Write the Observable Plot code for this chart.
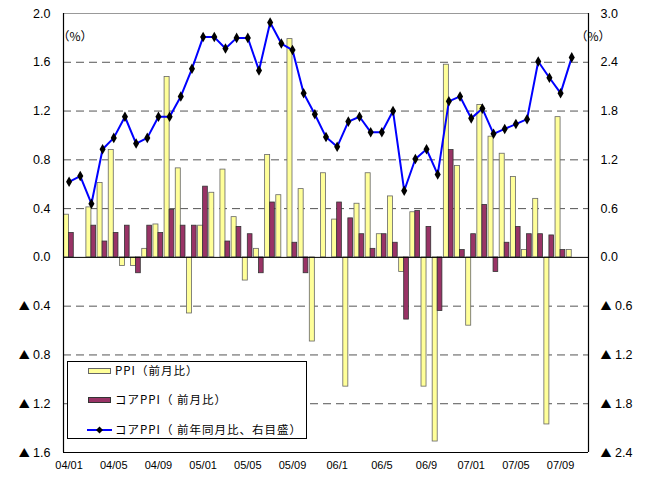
<!DOCTYPE html>
<html><head><meta charset="utf-8">
<script src="https://cdn.jsdelivr.net/npm/d3@7"></script>
<script src="https://cdn.jsdelivr.net/npm/@observablehq/plot@0.6"></script>
<style>
body{margin:0;background:#fff;}
#wrap{position:relative;width:650px;height:479px;background:#fff;}
#legend{position:absolute;left:67px;top:361px;width:240px;height:78px;border:1px solid #000;background:#fff;box-sizing:border-box;font-family:"Noto Sans CJK JP",sans-serif;font-size:11.5px;letter-spacing:1px;color:#000;}
.row{position:absolute;left:0;height:14px;line-height:14px;}
.sw{position:absolute;left:20px;top:4px;width:23px;height:6px;box-sizing:border-box;}
.lab{position:absolute;left:47px;top:-1px;white-space:nowrap;}
</style></head>
<body>
<div id="wrap"></div>
<script>
const months = ["04/01","04/02","04/03","04/04","04/05","04/06","04/07","04/08","04/09","04/10","04/11","04/12",
  "05/01","05/02","05/03","05/04","05/05","05/06","05/07","05/08","05/09","05/10","05/11","05/12",
  "06/01","06/02","06/03","06/04","06/05","06/06","06/07","06/08","06/09","06/10","06/11","06/12",
  "07/01","07/02","07/03","07/04","07/05","07/06","07/07","07/08","07/09","07/10"];
// PPI (month on month, %)
const ppi = [0.35,0,0.41,0.61,0.88,-0.07,-0.07,0.07,0.27,1.48,0.73,-0.46,
  0.26,0.53,0.72,0.33,-0.19,0.07,0.84,0.51,1.79,0.56,-0.69,0.69,
  0.31,-1.06,0.44,0.69,0.19,0.50,-0.12,0.37,-1.06,-1.51,1.58,0.75,
  -0.56,1.25,0.99,0.85,0.66,0.06,0.48,-1.37,1.15,0.06];
// Core PPI (month on month, %)
const corePPI = [0.20,0,0.26,0.13,0.20,0.26,-0.13,0.26,0.20,0.39,0.26,0.26,
  0.58,0,0.13,0.25,0.19,-0.13,0.45,0,0.12,-0.13,0,0,
  0.45,0.32,0.19,0.07,0.19,0.12,-0.51,0.38,0.25,-0.44,0.88,0.06,
  0.19,0.43,-0.12,0.12,0.25,0.19,0.19,0.18,0.06,null];
// Core PPI (year on year, %, right axis)
const coreYoY = [0.93,1.00,0.66,1.33,1.47,1.73,1.40,1.47,1.73,1.73,1.98,2.32,
  2.71,2.71,2.57,2.70,2.70,2.30,2.89,2.63,2.55,2.02,1.76,1.48,
  1.36,1.67,1.73,1.54,1.54,1.80,0.82,1.21,1.33,1.02,1.92,1.98,
  1.71,1.83,1.52,1.58,1.64,1.70,2.41,2.21,2.02,2.46];
const xTickMonths = ["04/01","04/05","04/09","05/01","05/05","05/09","06/01","06/05","06/09","07/01","07/05","07/09"];
const xTickLabels = ["04/01","04/05","04/09","05/01","05/05","05/09","06/1","06/5","06/9","07/01","07/05","07/09"];
const leftTicks = [2.0,1.6,1.2,0.8,0.4,0.0,-0.4,-0.8,-1.2,-1.6];
const gridVals = [1.6,1.2,0.8,0.4,-0.4,-0.8,-1.2];
const ratio = 1.5; // right axis / left axis

const data = months.map((m,i)=>({i, m, ppi: ppi[i], core: corePPI[i], yoy: coreYoY[i]}));
const nBands = months.length + 1;
const fmt = v => { const r = Math.round(v*10)/10; return r < 0 ? "▲ " + Math.abs(r).toFixed(1) : r.toFixed(1); };
const xTickPos = xTickMonths.map(m => months.indexOf(m) + 0.5);

const chart = Plot.plot({
  width:650, height:479,
  marginLeft:63, marginRight:62, marginTop:13, marginBottom:27,
  x:{domain:[0,nBands], axis:null},
  y:{domain:[-1.6,2.0], axis:null},
  style:{fontFamily:"'Liberation Sans', Arial, sans-serif", background:"#fff", color:"#000"},
  marks:[
    Plot.ruleY(gridVals, {stroke:"#555", strokeDasharray:"8,5", strokeWidth:1}),
    Plot.ruleY([2.0], {stroke:"#999", strokeWidth:1}),
    Plot.rect(data.filter(d=>d.ppi), {x1:d=>d.i+0.05, x2:d=>d.i+0.5, y1:0, y2:"ppi", fill:"#FFFF99", stroke:"#666", strokeWidth:0.8}),
    Plot.rect(data.filter(d=>d.core), {x1:d=>d.i+0.5, x2:d=>d.i+0.92, y1:0, y2:"core", fill:"#993366", stroke:"#333", strokeWidth:0.8}),
    Plot.ruleY([0], {stroke:"#000", strokeWidth:1}),
    Plot.ruleY([-1.6], {stroke:"#000", strokeWidth:1}),
    Plot.ruleX([0], {stroke:"#000", strokeWidth:1.2}),
    Plot.ruleX([nBands], {stroke:"#000", strokeWidth:1.2}),
    Plot.line(data, {x:d=>d.i+0.5, y:d=>d.yoy/ratio, stroke:"#0000FF", strokeWidth:2}),
    Plot.dot(data, {x:d=>d.i+0.5, y:d=>d.yoy/ratio, symbol:"diamond", fill:"#000", r:3.2}),
    Plot.axisY({anchor:"left", ticks:leftTicks, tickSize:0, tickPadding:13, tickFormat:fmt, fontSize:12.5}),
    Plot.axisY({anchor:"right", ticks:leftTicks, tickSize:0, tickPadding:12, tickFormat:v=>fmt(v*ratio), fontSize:12.5}),
    Plot.axisX({ticks:xTickPos, tickSize:0, tickPadding:9, fontSize:11, tickFormat:d=>xTickLabels[xTickPos.indexOf(d)]}),
    Plot.text(["（%）"], {frameAnchor:"top-left", dx:-6, dy:19, textAnchor:"start", fontSize:12, fontFamily:"'Noto Sans CJK JP'"}),
    Plot.text(["（%）"], {frameAnchor:"top-right", dx:-13, dy:19, textAnchor:"start", fontSize:12, fontFamily:"'Noto Sans CJK JP'"})
  ]
});
// enlarge the ▲ glyph of negative tick labels (full-width, as in the original)
d3.select(chart).selectAll("text").each(function(){
  const s = this.textContent;
  if (s.startsWith("▲")) {
    const el = d3.select(this);
    el.text(null);
    el.append("tspan").attr("font-family","'Noto Sans CJK JP'").attr("font-size", 11).text("▲");
    el.append("tspan").text(" " + s.slice(1).trim());
  }
});
const wrap = document.getElementById("wrap");
wrap.appendChild(chart);

const legendItems = [
  {label:"PPI（前月比）", type:"bar", fill:"#FFFF99", stroke:"#666", top:2},
  {label:"コアPPI（ 前月比）", type:"bar", fill:"#993366", stroke:"#333", top:31},
  {label:"コアPPI（ 前年同月比、右目盛）", type:"line", top:61}
];
const lg = document.createElement("div");
lg.id = "legend";
legendItems.forEach(it => {
  const row = document.createElement("div");
  row.className = "row"; row.style.top = it.top + "px";
  if (it.type === "bar") {
    const sw = document.createElement("div");
    sw.className = "sw"; sw.style.background = it.fill; sw.style.border = "1px solid " + it.stroke;
    row.appendChild(sw);
  } else {
    const ns = "http://www.w3.org/2000/svg";
    const s = document.createElementNS(ns, "svg");
    s.setAttribute("width", 26); s.setAttribute("height", 14);
    s.style.position = "absolute"; s.style.left = "19px"; s.style.top = "0px";
    const l = document.createElementNS(ns, "line");
    l.setAttribute("x1", 0); l.setAttribute("x2", 25); l.setAttribute("y1", 7); l.setAttribute("y2", 7);
    l.setAttribute("stroke", "#0000FF"); l.setAttribute("stroke-width", 2);
    const p = document.createElementNS(ns, "path");
    p.setAttribute("d", "M12.5,3.5L16,7L12.5,10.5L9,7Z"); p.setAttribute("fill", "#000");
    s.appendChild(l); s.appendChild(p); row.appendChild(s);
  }
  const t = document.createElement("div");
  t.className = "lab"; t.textContent = it.label;
  row.appendChild(t);
  lg.appendChild(row);
});
wrap.appendChild(lg);
</script>
</body></html>
